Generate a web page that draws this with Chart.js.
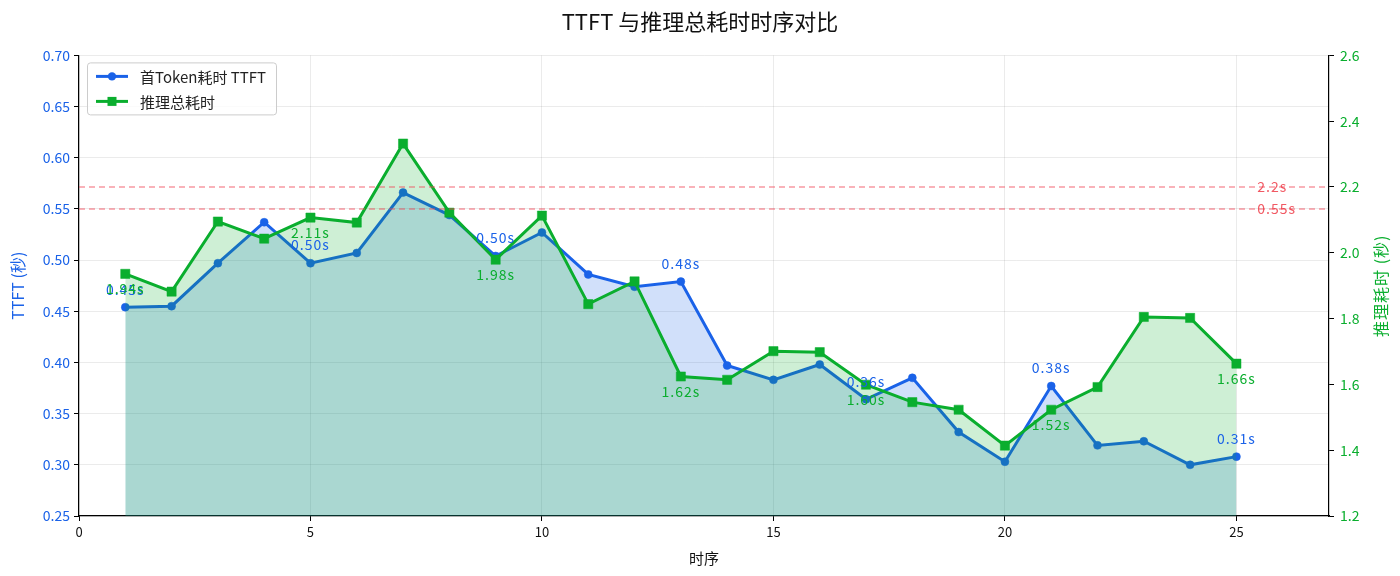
<!DOCTYPE html>
<html>
<head>
<meta charset="utf-8">
<script src="https://cdn.jsdelivr.net/npm/chart.js@4.4.1/dist/chart.umd.min.js"></script>
<style>
  html, body { margin: 0; padding: 0; background: #fff; }
  #wrap { width: 1400px; height: 576px; }
</style>
</head>
<body>
<div id="wrap"><canvas id="chart" width="1400" height="576"></canvas></div>
<script>
  const steps = [1, 2, 3, 4, 5, 6, 7, 8, 9, 10, 11, 12, 13, 14, 15, 16, 17, 18, 19, 20, 21, 22, 23, 24, 25];
  const ttft = [0.454, 0.455, 0.497, 0.537, 0.497, 0.507, 0.566, 0.544, 0.504, 0.527, 0.486, 0.474, 0.479, 0.397, 0.383, 0.398, 0.364, 0.385, 0.332, 0.303, 0.377, 0.319, 0.323, 0.300, 0.308];
  const totalTime = [1.936, 1.882, 2.095, 2.043, 2.107, 2.092, 2.332, 2.122, 1.979, 2.113, 1.844, 1.913, 1.624, 1.614, 1.701, 1.698, 1.599, 1.546, 1.523, 1.414, 1.523, 1.592, 1.805, 1.802, 1.663];
  const xTicks = [0, 5, 10, 15, 20, 25];
  const ttftThreshold = 0.55;
  const totalThreshold = 2.2;
  const labelEvery = 4;

  const colors = {
    blue: "#1a62e8",
    blueFill: "rgba(26, 98, 232, 0.2)",
    green: "#0aae2e",
    greenFill: "rgba(10, 174, 46, 0.2)",
    red: "rgba(240, 70, 85, 0.55)",
    redText: "rgba(238, 60, 72, 0.85)",
    grid: "rgba(0, 0, 0, 0.08)",
  };
  const fontFamily = "'Noto Sans CJK SC', 'Noto Sans', sans-serif";
  Chart.defaults.font.family = fontFamily;

  const toPoints = (ys) => steps.map((x, i) => ({ x: x, y: ys[i] }));

  // threshold lines + value labels + legend + right axis title
  const extrasPlugin = {
    id: "extras",
    afterDatasetsDraw(chart) {
      const { ctx, chartArea, scales } = chart;
      ctx.save();
      ctx.setLineDash([6, 4]);
      ctx.lineWidth = 1.5;
      ctx.strokeStyle = colors.red;
      const yA = scales.y.getPixelForValue(ttftThreshold);
      const yB = scales.y1.getPixelForValue(totalThreshold);
      [yA, yB].forEach((py) => {
        ctx.beginPath();
        ctx.moveTo(chartArea.left, py);
        ctx.lineTo(chartArea.right, py);
        ctx.stroke();
      });
      ctx.setLineDash([]);
      ctx.fillStyle = colors.redText;
      ctx.font = "14px " + fontFamily;
      ctx.letterSpacing = "1px";
      ctx.textAlign = "left";
      ctx.textBaseline = "middle";
      const tx = scales.x.getPixelForValue(25.45);
      ctx.fillText(ttftThreshold + "s", tx, yA);
      ctx.fillText(totalThreshold + "s", tx, yB);

      // point value labels
      ctx.textAlign = "center";
      const m0 = chart.getDatasetMeta(0).data;
      const m1 = chart.getDatasetMeta(1).data;
      for (let i = 0; i < steps.length; i += labelEvery) {
        ctx.fillStyle = colors.blue;
        ctx.fillText(ttft[i].toFixed(2) + "s", m0[i].x, m0[i].y - 18);
        ctx.fillStyle = colors.green;
        ctx.fillText(totalTime[i].toFixed(2) + "s", m1[i].x, m1[i].y + 15);
      }
      ctx.letterSpacing = "0px";

      // legend
      const lx = chartArea.left + 8, ly = chartArea.top + 7;
      ctx.fillStyle = "rgba(255,255,255,0.8)";
      ctx.strokeStyle = "#cccccc";
      ctx.lineWidth = 1;
      ctx.beginPath();
      ctx.roundRect(lx + 0.5, ly + 0.5, 189, 52, 3);
      ctx.fill();
      ctx.stroke();
      const items = [
        { text: "首Token耗时 TTFT", color: colors.blue, style: "circle" },
        { text: "推理总耗时", color: colors.green, style: "rect" },
      ];
      ctx.font = "15px " + fontFamily;
      ctx.textAlign = "left";
      items.forEach((it, k) => {
        const cy = ly + 14 + k * 25;
        ctx.strokeStyle = it.color;
        ctx.fillStyle = it.color;
        ctx.lineWidth = 3;
        ctx.beginPath();
        ctx.moveTo(lx + 9, cy);
        ctx.lineTo(lx + 41, cy);
        ctx.stroke();
        if (it.style === "circle") {
          ctx.beginPath();
          ctx.arc(lx + 25, cy, 4.2, 0, Math.PI * 2);
          ctx.fill();
        } else {
          ctx.fillRect(lx + 20.5, cy - 4.5, 9, 9);
        }
        ctx.fillStyle = "#222";
        ctx.fillText(it.text, lx + 53, cy + 1);
      });

      // right axis title, reading bottom to top
      ctx.save();
      ctx.translate(1381, (chartArea.top + chartArea.bottom) / 2);
      ctx.rotate(-Math.PI / 2);
      ctx.fillStyle = colors.green;
      ctx.font = "16px " + fontFamily;
      ctx.letterSpacing = "1px";
      ctx.textAlign = "center";
      ctx.fillText("推理耗时 (秒)", 0, 0);
      ctx.restore();
      ctx.restore();
    },
  };

  new Chart(document.getElementById("chart"), {
    type: "line",
    data: {
      datasets: [
        {
          label: "首Token耗时 TTFT",
          data: toPoints(ttft),
          yAxisID: "y",
          borderColor: colors.blue,
          backgroundColor: colors.blueFill,
          pointBackgroundColor: colors.blue,
          pointBorderColor: colors.blue,
          pointStyle: "circle",
          pointRadius: 4,
          pointBorderWidth: 0.5,
          borderWidth: 3,
          tension: 0,
          fill: "start",
          order: 1,
        },
        {
          label: "推理总耗时",
          data: toPoints(totalTime),
          yAxisID: "y1",
          borderColor: colors.green,
          backgroundColor: colors.greenFill,
          pointBackgroundColor: colors.green,
          pointBorderColor: colors.green,
          pointStyle: "rect",
          pointRadius: 6.5,
          pointBorderWidth: 0.5,
          borderWidth: 3,
          tension: 0,
          fill: "start",
          order: 0,
        },
      ],
    },
    options: {
      responsive: false,
      animation: false,
      events: [],
      layout: { padding: { top: 0, left: 0, right: 0, bottom: 0 } },
      plugins: {
        legend: { display: false },
        tooltip: { enabled: false },
        title: {
          display: true,
          text: "TTFT 与推理总耗时时序对比",
          color: "#111",
          font: { size: 22, weight: "normal" },
          padding: { top: 8, bottom: 21 },
        },
      },
      scales: {
        x: {
          type: "linear",
          min: 0,
          max: 27,
          afterBuildTicks: (s) => { s.ticks = xTicks.map((v) => ({ value: v })); },
          afterFit: (s) => { s.height = 60; },
          grid: { color: colors.grid, tickColor: "#000", tickLength: 5 },
          border: { color: "#000", width: 1.2 },
          ticks: { color: "#111", font: { size: 13 }, padding: 3, maxRotation: 0 },
          title: { display: true, text: "时序", color: "#111", font: { size: 15 }, padding: { top: 0, bottom: 9 } },
        },
        y: {
          position: "left",
          min: 0.25,
          max: 0.7,
          afterFit: (s) => { s.width = 79; },
          grid: { color: colors.grid, tickColor: "#000", tickLength: 5 },
          border: { color: "#000", width: 1.2 },
          ticks: { stepSize: 0.05, color: colors.blue, font: { size: 14 }, padding: 4, callback: (v) => v.toFixed(2) },
          title: { display: true, text: "TTFT (秒)", color: colors.blue, font: { size: 16 }, padding: { top: 8, bottom: 0 } },
        },
        y1: {
          position: "right",
          min: 1.2,
          max: 2.6,
          afterFit: (s) => { s.width = 71; },
          grid: { drawOnChartArea: false, tickColor: "#000", tickLength: 5 },
          border: { color: "#000", width: 1.2 },
          ticks: { stepSize: 0.2, color: colors.green, font: { size: 14 }, padding: 6, callback: (v) => v.toFixed(1) },
        },
      },
    },
    plugins: [extrasPlugin],
  });
</script>
</body>
</html>
